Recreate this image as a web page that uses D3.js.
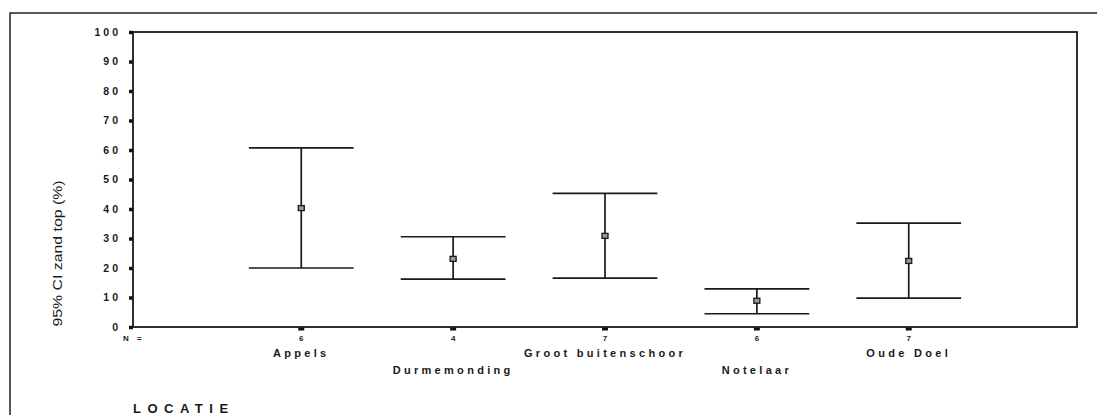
<!DOCTYPE html>
<meta charset="utf-8">
<title>locatie-ci</title>
<style>
body { margin: 0; background: #fff; }
text { font-family: "Liberation Sans", Arial, sans-serif; fill: #1a1a1a; }
</style>
<body>
<script src="https://d3js.org/d3.v7.min.js"></script>
<script>
var categories = ["Appels", "Durmemonding", "Groot buitenschoor", "Notelaar", "Oude Doel"];
var nCounts = [6, 4, 7, 6, 7];
var means = [40.3, 23.1, 30.9, 8.9, 22.4];
var lower = [20.0, 16.2, 16.6, 4.5, 9.8];
var upper = [60.7, 30.6, 45.3, 12.9, 35.2];
var yTicks = [0, 10, 20, 30, 40, 50, 60, 70, 80, 90, 100];

var width = 1097, height = 415;
var svg = d3.select('body').append('svg')
    .attr('width', width)
    .attr('height', height);

// outer frame of the scanned figure (right and bottom run off the page)
svg.append('rect')
    .attr('x', 10).attr('y', 13)
    .attr('width', 1120).attr('height', 430)
    .attr('fill', 'none')
    .attr('stroke', '#222')
    .attr('stroke-width', 1.5);

var pLeft = 133, pRight = 1077, pTop = 32, pBottom = 327;

var x = d3.scalePoint()
    .domain(categories)
    .range([pLeft, pRight])
    .padding(1.108);
var y = d3.scaleLinear()
    .domain([0, 100])
    .range([pBottom, pTop]);

// plot box
svg.append('rect')
    .attr('x', pLeft).attr('y', pTop)
    .attr('width', pRight - pLeft).attr('height', pBottom - pTop)
    .attr('fill', 'none')
    .attr('stroke', '#1a1a1a')
    .attr('stroke-width', 1.8);

// y axis with square-ish tick marks
var yAxis = d3.axisLeft(y)
    .tickValues(yTicks)
    .tickSize(4)
    .tickPadding(8);
var gy = svg.append('g')
    .attr('transform', 'translate(' + pLeft + ',0)')
    .call(yAxis);
gy.select('.domain').remove();
gy.selectAll('.tick line').attr('stroke', '#111').attr('stroke-width', 3.5);
gy.selectAll('.tick text')
    .attr('font-family', '"Liberation Sans", Arial, sans-serif')
    .attr('font-size', 10.5)
    .attr('font-weight', 'bold')
    .attr('letter-spacing', 3)
    .attr('fill', '#1a1a1a');

// x axis: small blocks under each category, N counts and staggered names
var step = x.step();
var gx = svg.append('g');
gx.selectAll('rect.xtick')
    .data(categories)
  .enter().append('rect')
    .attr('class', 'xtick')
    .attr('x', function(d) { return x(d) - 3; })
    .attr('y', pBottom + 0.5)
    .attr('width', 6).attr('height', 3)
    .attr('fill', '#111');
gx.selectAll('text.n')
    .data(categories)
  .enter().append('text')
    .attr('class', 'n')
    .attr('x', function(d) { return x(d); })
    .attr('y', pBottom + 14)
    .attr('text-anchor', 'middle')
    .attr('font-size', 8)
    .attr('font-weight', 'bold')
    .text(function(d, i) { return nCounts[i]; });
gx.append('text')
    .attr('x', 123)
    .attr('y', pBottom + 14)
    .attr('font-size', 8)
    .attr('font-weight', 'bold')
    .attr('letter-spacing', 3)
    .text('N =');
gx.selectAll('text.cat')
    .data(categories)
  .enter().append('text')
    .attr('class', 'cat')
    .attr('x', function(d) { return x(d); })
    .attr('y', function(d, i) { return i % 2 ? pBottom + 47 : pBottom + 30; })
    .attr('text-anchor', 'middle')
    .attr('font-size', 11)
    .attr('font-weight', 'bold')
    .attr('letter-spacing', 3.3)
    .text(function(d) { return d; });

// axis titles
svg.append('text')
    .attr('transform', 'translate(62,' + ((pTop + pBottom) / 2 + 74) + ') rotate(-90)')
    .attr('text-anchor', 'middle')
    .attr('font-size', 13)
    .attr('textLength', 146)
    .attr('lengthAdjust', 'spacingAndGlyphs')
    .text('95% CI zand top (%)');
svg.append('text')
    .attr('x', 133)
    .attr('y', 413)
    .attr('font-size', 13)
    .attr('font-weight', 'bold')
    .attr('letter-spacing', 6.5)
    .text('LOCATIE');

// error bars
var half = step * 0.345;
var bars = svg.selectAll('g.ci')
    .data(categories)
  .enter().append('g')
    .attr('class', 'ci');
bars.append('line')
    .attr('x1', function(d) { return x(d); })
    .attr('x2', function(d) { return x(d); })
    .attr('y1', function(d, i) { return y(upper[i]); })
    .attr('y2', function(d, i) { return y(lower[i]); });
bars.append('line')
    .attr('x1', function(d) { return x(d) - half; })
    .attr('x2', function(d) { return x(d) + half; })
    .attr('y1', function(d, i) { return y(upper[i]); })
    .attr('y2', function(d, i) { return y(upper[i]); });
bars.append('line')
    .attr('x1', function(d) { return x(d) - half; })
    .attr('x2', function(d) { return x(d) + half; })
    .attr('y1', function(d, i) { return y(lower[i]); })
    .attr('y2', function(d, i) { return y(lower[i]); });
bars.selectAll('line')
    .attr('stroke', '#1a1a1a')
    .attr('stroke-width', 1.7);
bars.append('rect')
    .attr('x', function(d) { return x(d) - 3; })
    .attr('y', function(d, i) { return y(means[i]) - 2.5; })
    .attr('width', 6).attr('height', 5)
    .attr('fill', '#999')
    .attr('stroke', '#1a1a1a')
    .attr('stroke-width', 1.3);
</script>
</body>
